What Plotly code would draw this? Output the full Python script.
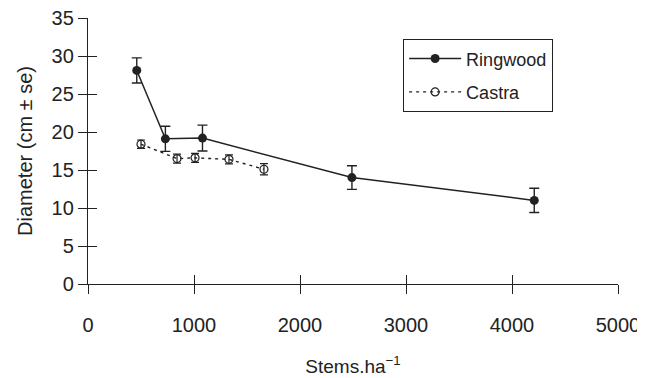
import plotly.graph_objects as go

# Data
ringwood_x = [460, 730, 1080, 2490, 4210]
ringwood_y = [28.1, 19.1, 19.2, 14.0, 11.0]
ringwood_se = [1.65, 1.65, 1.7, 1.55, 1.6]

castra_x = [500, 840, 1010, 1330, 1660]
castra_y = [18.4, 16.5, 16.6, 16.4, 15.1]
castra_se = [0.55, 0.6, 0.6, 0.6, 0.75]

x_ticks = [0, 1000, 2000, 3000, 4000, 5000]
y_ticks = [0, 5, 10, 15, 20, 25, 30, 35]

INK = "#222222"
FONT = "Liberation Sans, Arial, Helvetica, sans-serif"

fig = go.Figure()

fig.add_trace(go.Scatter(
    x=ringwood_x, y=ringwood_y, name="Ringwood", mode="lines+markers",
    legendgroup="r",
    line=dict(color=INK, width=1.5),
    marker=dict(symbol="circle", size=9, color=INK),
    error_y=dict(type="data", array=ringwood_se, visible=True,
                 color=INK, thickness=1.4, width=5),
))
fig.add_trace(go.Scatter(
    x=castra_x, y=castra_y, name="Castra", mode="lines+markers",
    legendgroup="c",
    line=dict(color=INK, width=1.4, dash="3px,4px"),
    marker=dict(symbol="circle-open", size=8, color=INK, line=dict(width=1.2)),
    error_y=dict(type="data", array=castra_se, visible=True,
                 color=INK, thickness=1.2, width=4),
))
# empty trace to draw the inside half of the crossing ticks
fig.add_trace(go.Scatter(x=[], y=[], xaxis="x2", yaxis="y2", showlegend=False,
                         hoverinfo="skip"))

axis_common = dict(showgrid=False, zeroline=False, showline=True,
                   linecolor=INK, linewidth=1.3, tickcolor=INK, tickwidth=1.3,
                   ticklen=9, automargin=False)

# page body adds an 8px offset, so the figure is sized 8px smaller
fig.update_layout(
    width=637, height=370,
    margin=dict(l=80, r=27, t=10, b=94, autoexpand=False),
    paper_bgcolor="white", plot_bgcolor="white",
    font=dict(family=FONT, size=20, color=INK),
    xaxis=dict(range=[0, 5000], tickvals=x_ticks, ticks="outside",
               ticklabelstandoff=14, ticklabeloverflow="allow",
               title=dict(text="Stems.ha<sup>\u22121</sup>", standoff=24,
                          font=dict(size=19)),
               **axis_common),
    yaxis=dict(range=[0, 35], tickvals=y_ticks, ticks="outside",
               ticklabeloverflow="allow",
               title=dict(text="Diameter (cm \u00b1 se)", standoff=13,
                          font=dict(size=20)),
               **axis_common),
    xaxis2=dict(range=[0, 5000], tickvals=x_ticks, ticks="inside",
                overlaying="x", anchor="y2", side="bottom",
                showticklabels=False, **axis_common),
    yaxis2=dict(range=[0, 35], tickvals=y_ticks, ticks="inside",
                overlaying="y", anchor="x2", side="left",
                showticklabels=False, **axis_common),
    showlegend=True,
    legend=dict(x=0.594, y=0.921, xanchor="left", yanchor="top",
                bordercolor=INK, borderwidth=1.3, bgcolor="white",
                font=dict(size=18, color=INK), itemwidth=52,
                tracegroupgap=7, traceorder="grouped"),
)

fig.write_html("out.html")
